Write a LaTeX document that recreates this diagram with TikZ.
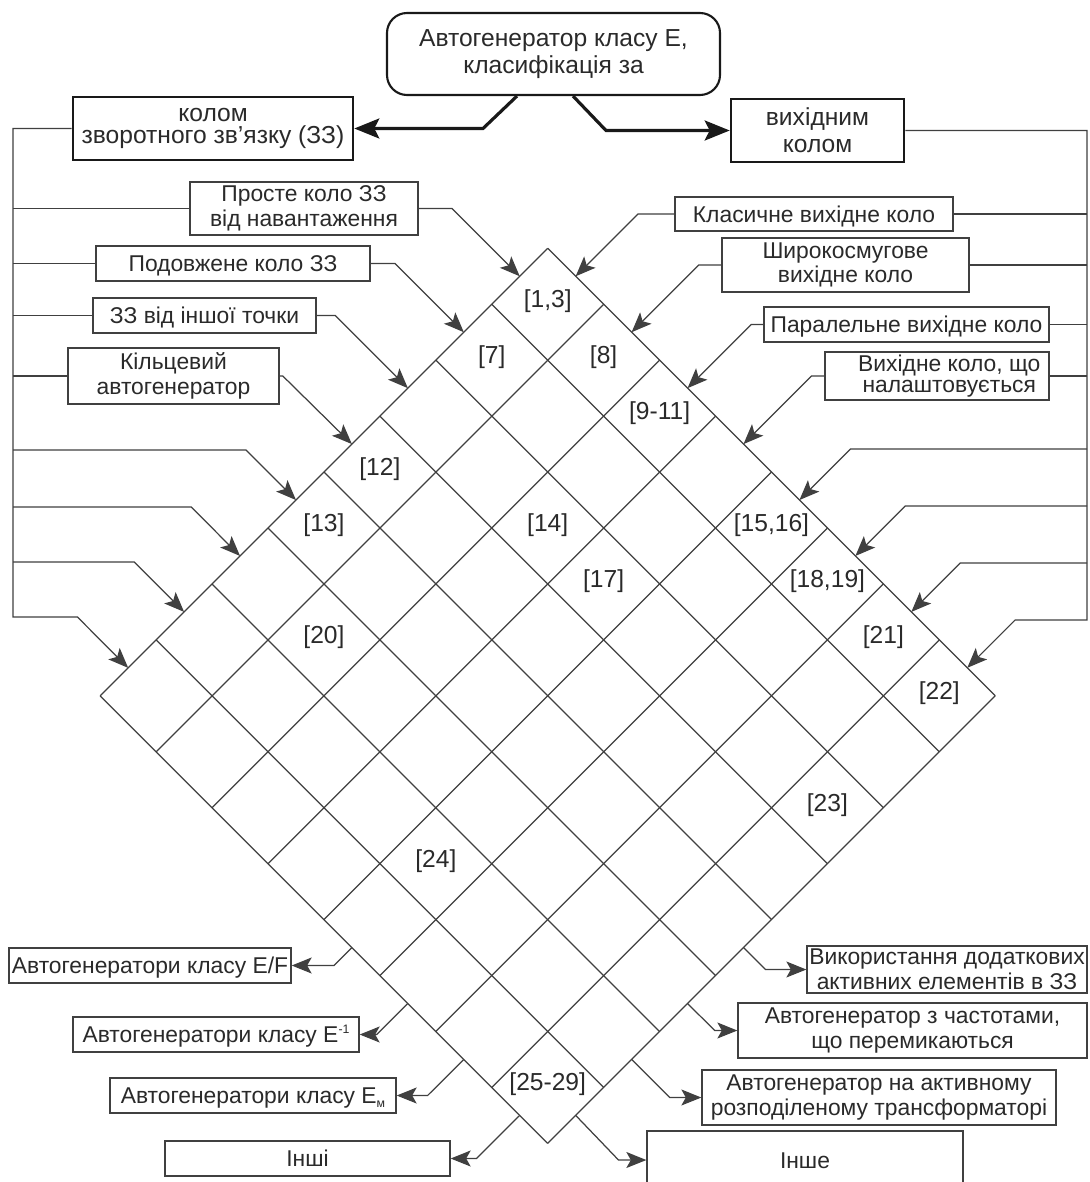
\documentclass[tikz,border=0pt]{standalone}
\usepackage{fontspec}
\setmainfont{Liberation Sans}
\usetikzlibrary{arrows.meta,calc}
\definecolor{ink}{HTML}{2A2A2A}
\definecolor{lin}{HTML}{404040}
\begin{document}
\begin{tikzpicture}[x=0.02cm,y=-0.02cm,
  sz/.style 2 args={minimum width=#1*0.02cm, minimum height=#2*0.02cm},
  lbl/.style={draw=lin, line width=0.75pt, fill=white, inner sep=0pt, align=center, text=ink, font=\fontsize{13}{14}\selectfont},
  one/.style={lbl, text height=9.4pt, text depth=0pt},
  mainbox/.style={draw=black!90, line width=1.5pt, fill=white, inner sep=0pt, align=center, text=ink, font=\fontsize{14}{15.5}\selectfont},
  topbox/.style={mainbox, line width=1.2pt, rounded corners=20*0.02cm, font=\fontsize{14}{15.5}\selectfont},
  grid/.style={draw=lin, line width=0.7pt},
  con/.style={draw=lin, line width=0.7pt},
  arr/.style={con, -{Stealth[length=4mm,width=3.2mm,inset=0.9mm]}},
  thk/.style={draw=black!90, line width=1.8pt, -{Stealth[length=5mm,width=4mm,inset=1mm]}},
  num/.style={text=ink, font=\fontsize{14}{16}\selectfont, inner sep=0pt}
]
\useasboundingbox (0,0) rectangle (1089,1182);
\clip (0,0) rectangle (1089,1182);
\fill[white] (0,0) rectangle (1089,1182);

% ---- geometry of the diamond grid
\def\s{55.94}
\def\tx{547.7}
\def\ty{248.3}
\foreach \k in {0,...,8} {
  \draw[grid] ({\tx+\k*\s},{\ty+\k*\s}) -- ++({-8*\s},{8*\s});
  \draw[grid] ({\tx-\k*\s},{\ty+\k*\s}) -- ++({8*\s},{8*\s});
}
\foreach \i in {0,...,7} {
  \coordinate (ml\i) at ({\tx-(\i+0.5)*\s},{\ty+(\i+0.5)*\s});
  \coordinate (mr\i) at ({\tx+(\i+0.5)*\s},{\ty+(\i+0.5)*\s});
  \coordinate (bl\i) at ({\tx-8*\s+(\i+0.5)*\s},{\ty+8*\s+(\i+0.5)*\s});
  \coordinate (br\i) at ({\tx+8*\s-(\i+0.5)*\s},{\ty+8*\s+(\i+0.5)*\s});
}

% ---- cell labels (row i, column j)
\foreach \i/\j/\t/\n in {0/0/{[1,3]}/a,1/0/{[7]}/b,0/1/{[8]}/c,0/2/{[9-11]}/d,3/0/{[12]}/e,4/0/{[13]}/f,
  2/2/{[14]}/g,0/4/{[15,16]}/h,2/3/{[17]}/k,0/5/{[18,19]}/l,5/1/{[20]}/m,0/6/{[21]}/n,0/7/{[22]}/o,
  2/7/{[23]}/p,6/4/{[24]}/q,7/7/{[25-29]}/r}
  \node[num] (cell\n) at ({\tx+(\j-\i)*\s},{\ty+(\i+\j+1)*\s-3}) {\t};

% ---- main boxes
\node[topbox, sz={333}{82}] (top) at (553.5,54) {Автогенератор класу Е,\\класифікація за};
\node[mainbox, sz={280}{63}] (fb) at (213,128.5) {колом\\[-3pt]зворотного зв’язку (ЗЗ)};
\node[mainbox, sz={173}{63}] (out) at (817.5,130.5) {вихідним\\колом};

\draw[thk] ($(top.south)+(-36.5,0)$) -- (483,128.5) -- (fb.east);
\draw[thk] ($(top.south)+(19.5,0)$) -- (606,130.5) -- (out.west);

% ---- left labels
\node[lbl, sz={228}{53}] (L1) at (304,208.5) {Просте коло ЗЗ\\від навантаження};
\node[one, sz={274}{35}] (L2) at (233,263.5) {Подовжене коло ЗЗ};
\node[one, sz={223}{35}] (L3) at (204.5,315.5) {ЗЗ від іншої точки};
\node[lbl, sz={211}{56}] (L4) at (173.5,376) {Кільцевий\\автогенератор};

\coordinate (lt) at (13,617);
\draw[arr] (fb.west) -| (lt) -- (77.4,617) -- (ml7);
\foreach \b in {L1,L2,L3,L4} \draw[con] (lt |- \b.west) -- (\b.west);
\draw[arr] (L1.east) -- (451.9,208.5) -- (ml0);
\draw[arr] (L2.east) -- (395.1,263.5) -- (ml1);
\draw[arr] (L3.east) -- (335.3,315.5) -- (ml2);
\draw[arr] (L4.east) -- (282.8,376) -- (ml3);
\draw[arr] (lt |- 0,450) -- (246,450) -- (ml4);
\draw[arr] (lt |- 0,507) -- (191.2,507) -- (ml5);
\draw[arr] (lt |- 0,562) -- (134.2,562) -- (ml6);

% ---- right labels
\node[one, sz={278}{34}] (R1) at (814,214) {Класичне вихідне коло};
\node[lbl, sz={247}{54}] (R2) at (845.5,265) {Широкосмугове\\вихідне коло};
\node[one, sz={285}{35}] (R3) at (906.5,324.5) {Паралельне вихідне коло};
\node[lbl, sz={224}{48}, font=\fontsize{13}{12}\selectfont] (R4) at (937,376) {\hspace*{14pt}Вихідне коло, що\\\hspace*{14pt}налаштовується};

\coordinate (rt) at (1087,620);
\draw[arr] (out.east) -| (rt) -- (1015.1,620) -- (mr7);
\foreach \b in {R1,R2,R3,R4} \draw[con] (rt |- \b.east) -- (\b.east);
\draw[arr] (R1.west) -- (638,214) -- (mr0);
\draw[arr] (R2.west) -- (698.8,265) -- (mr1);
\draw[arr] (R3.west) -- (751.2,324.5) -- (mr2);
\draw[arr] (R4.west) -- (811.6,376) -- (mr3);
\draw[arr] (rt |- 0,449) -- (850.5,449) -- (mr4);
\draw[arr] (rt |- 0,506) -- (905.3,506) -- (mr5);
\draw[arr] (rt |- 0,563) -- (960.3,563) -- (mr6);

% ---- bottom left labels
\node[one, sz={282}{35}] (B1) at (150,965.5) {Автогенератори класу E/F};
\node[one, sz={286}{35}] (B2) at (216,1034.5) {Автогенератори класу E\raisebox{0.8ex}{\fontsize{7}{7}\selectfont -1}};
\node[one, sz={286}{35}] (B3) at (253,1095.5) {Автогенератори класу E\raisebox{-0.35ex}{\fontsize{7}{7}\selectfont м}};
\node[one, sz={285}{35}] (B4) at (307.5,1158.5) {Інші};

\draw[arr] (bl4) -- (333.9,965.5) -- (B1.east);
\draw[arr] (bl5) -- (376.7,1034.5) -- (B2.east);
\draw[arr] (bl6) -- (427.6,1095.5) -- (B3.east);
\draw[arr] (bl7) -- (476.4,1158.5) -- (B4.east);

% ---- bottom right labels
\node[lbl, sz={280}{47}] (C1) at (947,969.5) {Використання додаткових\\активних елементів в ЗЗ};
\node[lbl, sz={349}{55}] (C2) at (912.5,1030.5) {Автогенератор з частотами,\\що перемикаються};
\node[lbl, sz={354}{55}] (C3) at (879,1097.5) {Автогенератор на активному\\розподіленому трансформаторі};
\node[one, sz={316}{58}] (C4) at (805,1160) {Інше};

\draw[arr] (br4) -- (765.5,969.5) -- (C1.west);
\draw[arr] (br5) -- (714.7,1030.5) -- (C2.west);
\draw[arr] (br6) -- (669.8,1097.5) -- (C3.west);
\draw[arr] (br7) -- (618.5,1160) -- (C4.west);
\end{tikzpicture}
\end{document}
